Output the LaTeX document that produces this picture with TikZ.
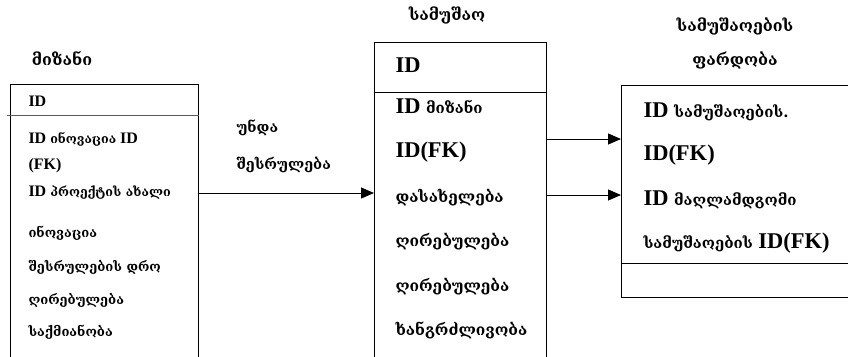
\documentclass[tikz,border=0pt]{standalone}
\usepackage{fontspec}
\setmainfont{Liberation Serif}
\newfontfamily\geo{DejaVu Serif}
\usetikzlibrary{arrows.meta}

\newcommand{\kat}[1]{{\geo #1}}

\begin{document}
\begin{tikzpicture}[x=1pt, y=-1pt, >={Triangle[length=13pt,width=11pt]}, line width=1pt]
        % Define styles
        \tikzstyle{table}=[draw=black, line width=1.2pt, anchor=north west, inner sep=0pt]
        \tikzstyle{row}=[anchor=west, inner sep=0pt]
        \tikzstyle{small}=[row, font=\fontsize{16}{18}\selectfont\bfseries]
        \tikzstyle{big}=[row, font=\fontsize{22.5}{25}\selectfont\bfseries]
        \tikzstyle{title}=[font=\geo\fontsize{16}{18}\selectfont\bfseries]

        \path[use as bounding box, clip] (0,0) rectangle (848,356);

        % Tables (open below and to the right)
        \node[table, minimum width=188pt, minimum height=300pt] (goal) at (10,84) {};
        \node[table, minimum width=172pt, minimum height=340pt] (task) at (374,42) {};
        \node[table, minimum width=260pt, minimum height=212pt] (ratio) at (621,85) {};

        % Header lines
        \draw[black!65] ([xshift=-3pt,yshift=-31pt]goal.north west) -- ([yshift=-31pt]goal.north east);
        \draw ([yshift=-50pt]task.north west) -- ([yshift=-50pt]task.north east);
        \draw ([yshift=-178pt]ratio.north west) -- ([yshift=-178pt]ratio.north east);

        % Table titles
        \node[title] (goal-title) at (62,58) {მიზანი};
        \node[title] (task-title) at (447,15) {სამუშაო};
        \node[title] (ratio-title) at (735,26) {სამუშაოების};
        \node[title] (ratio-title2) at (735,60) {ფარდობა};

        % Goal rows
        \foreach \t/\y [count=\i] in {
            ID/101,
            ID \kat{\fontsize{12.5}{14}\selectfont ინოვაცია} ID/139,
            (FK)/166,
            ID \kat{\fontsize{12.5}{14}\selectfont პროექტის ახალი}/193,
            \kat{\fontsize{13}{14}\selectfont ინოვაცია}/233,
            \kat{\fontsize{13}{14}\selectfont შესრულების დრო}/267,
            \kat{\fontsize{13}{14}\selectfont ღირებულება}/300,
            \kat{\fontsize{13}{14}\selectfont საქმიანობა}/332}
            \node[small] (goal-\i) at (28,\y) {\t};

        % Task rows
        \foreach \t/\y [count=\i] in {
            ID/65,
            ID \kat{\fontsize{15}{17}\selectfont მიზანი}/106,
            ID(FK)/152,
            \kat{\fontsize{15.5}{17}\selectfont დასახელება}/198,
            \kat{\fontsize{15.5}{17}\selectfont ღირებულება}/242,
            \kat{\fontsize{15.5}{17}\selectfont ღირებულება}/287,
            \kat{\fontsize{15.5}{17}\selectfont ხანგრძლივობა}/330}
            \node[big] (task-\i) at (395,\y) {\t};

        % Ratio rows
        \foreach \t/\y [count=\i] in {
            ID \kat{\fontsize{15}{17}\selectfont სამუშაოების.}/112,
            ID(FK)/155,
            ID \kat{\fontsize{15}{17}\selectfont მაღლამდგომი}/200,
            \kat{\fontsize{15}{17}\selectfont სამუშაოების} ID(FK)/243}
            \node[big] (ratio-\i) at (643,\y) {\t};

        % Relation label
        \node[row, title, font=\geo\fontsize{14.5}{17}\selectfont\bfseries] (rel-1) at (236,128) {უნდა};
        \node[row, title, font=\geo\fontsize{14.5}{17}\selectfont\bfseries] (rel-2) at (236,165) {შესრულება};

        % Connections
        \draw[->] (goal.east |- goal-4) -- (task.west |- goal-4);
        \draw[->] ([yshift=-97pt]task.north east) -- ([yshift=-97pt]task.north east -| ratio.west);
        \draw[->] ([yshift=-153pt]task.north east) -- ([yshift=-153pt]task.north east -| ratio.west);
\end{tikzpicture}
\end{document}
